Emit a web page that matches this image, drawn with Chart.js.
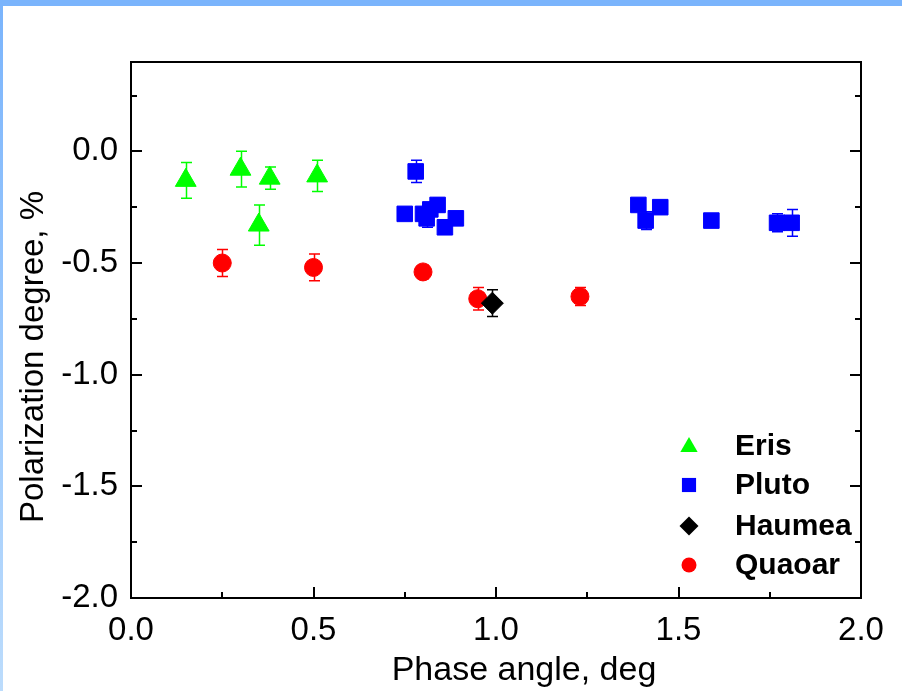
<!DOCTYPE html>
<html>
<head>
<meta charset="utf-8">
<script src="https://cdn.jsdelivr.net/npm/chart.js@4/dist/chart.umd.min.js"></script>
<style>
  html, body { margin: 0; padding: 0; background: #fff; }
  #wrap { position: relative; width: 902px; height: 691px; }
</style>
</head>
<body>
<div id="wrap"><canvas id="c" width="902" height="691"></canvas></div>
<script>
// ---- data ----
const erisX   = [0.15, 0.30, 0.35, 0.38, 0.51];
const erisY   = [-0.13, -0.08, -0.33, -0.12, -0.11];
const erisErr = [0.08, 0.08, 0.09, 0.05, 0.07];

const plutoX   = [0.75, 0.78, 0.80, 0.81, 0.82, 0.84, 0.86, 0.89, 1.39, 1.41, 1.45, 1.59, 1.77, 1.81];
const plutoY   = [-0.28, -0.09, -0.28, -0.30, -0.26, -0.24, -0.34, -0.30, -0.24, -0.31, -0.25, -0.31, -0.32, -0.32];
const plutoErr = [0.02, 0.05, 0.02, 0.04, 0.02, 0.03, 0.02, 0.02, 0.02, 0.04, 0.03, 0.02, 0.04, 0.06];

const haumeaX   = [0.99];
const haumeaY   = [-0.68];
const haumeaErr = [0.06];

const quaoarX   = [0.25, 0.50, 0.80, 0.95, 1.23];
const quaoarY   = [-0.50, -0.52, -0.54, -0.66, -0.65];
const quaoarErr = [0.06, 0.06, 0.03, 0.05, 0.04];

const seriesNames = ['Eris', 'Pluto', 'Haumea', 'Quaoar'];
const xTickValues = [0.0, 0.5, 1.0, 1.5, 2.0];
const xMinorValues = [0.25, 0.75, 1.25, 1.75];
const yTickValues = [-2.0, -1.5, -1.0, -0.5, 0.0];
const yMinorValues = [-1.75, -1.25, -0.75, -0.25, 0.25];
const xTitle = 'Phase angle, deg';
const yTitle = 'Polarization degree, %';

function pts(xs, ys, es) { return xs.map((x, i) => ({ x: x, y: ys[i], err: es[i] })); }

const styles = [
  { color: '#00ff00', shape: 'triangle', r: 12, lr: 10 },
  { color: '#0000ff', shape: 'rect', r: 11, lr: 10 },
  { color: '#000000', shape: 'rectRot', r: 11, lr: 9.5 },
  { color: '#ff0000', shape: 'circle', r: 9, lr: 7.5 }
];
const allData = [pts(erisX, erisY, erisErr), pts(plutoX, plutoY, plutoErr), pts(haumeaX, haumeaY, haumeaErr), pts(quaoarX, quaoarY, quaoarErr)];

const datasets = seriesNames.map((n, i) => ({
  label: n,
  data: allData[i],
  pointStyle: styles[i].shape,
  pointRadius: styles[i].r,
  pointHoverRadius: styles[i].r,
  backgroundColor: styles[i].color,
  borderColor: styles[i].color,
  borderWidth: 1,
  showLine: false
}));

const fontFam = '"Liberation Sans", Arial, sans-serif';

const framePlugin = {
  id: 'frame',
  beforeDraw(chart) {
    const ctx = chart.ctx;
    ctx.save();
    ctx.fillStyle = '#ffffff';
    ctx.fillRect(0, 0, chart.width, chart.height);
    const g = ctx.createLinearGradient(0, 0, 0, chart.height);
    g.addColorStop(0, '#7ab4fc');
    g.addColorStop(1, '#bcdcfc');
    ctx.fillStyle = g;
    ctx.fillRect(0, 0, 3, chart.height);
    ctx.fillStyle = '#7ab4fc';
    ctx.fillRect(0, 0, chart.width, 6);
    ctx.restore();
  }
};

const errorBarPlugin = {
  id: 'errbars',
  beforeDatasetsDraw(chart) {
    const ctx = chart.ctx, xs = chart.scales.x, ys = chart.scales.y;
    ctx.save();
    ctx.lineWidth = 1.5;
    chart.data.datasets.forEach((ds, i) => {
      ctx.strokeStyle = ds.borderColor;
      ds.data.forEach(p => {
        const x = Math.round(xs.getPixelForValue(p.x)) + 0.5;
        const yt = ys.getPixelForValue(p.y + p.err);
        const yb = ys.getPixelForValue(p.y - p.err);
        ctx.beginPath();
        ctx.moveTo(x, yt); ctx.lineTo(x, yb);
        ctx.moveTo(x - 5.5, yt); ctx.lineTo(x + 5.5, yt);
        ctx.moveTo(x - 5.5, yb); ctx.lineTo(x + 5.5, yb);
        ctx.stroke();
      });
    });
    ctx.restore();
  }
};

function drawShape(ctx, shape, x, y, r, color) {
  ctx.fillStyle = color;
  ctx.beginPath();
  if (shape === 'triangle') {
    const w = r * Math.sin(Math.PI * 2 / 3);
    ctx.moveTo(x, y - r);
    ctx.lineTo(x + w, y + r / 2);
    ctx.lineTo(x - w, y + r / 2);
    ctx.closePath();
  } else if (shape === 'rect') {
    const s = r * Math.SQRT1_2;
    ctx.rect(x - s, y - s, 2 * s, 2 * s);
  } else if (shape === 'rectRot') {
    ctx.moveTo(x, y - r); ctx.lineTo(x + r, y); ctx.lineTo(x, y + r); ctx.lineTo(x - r, y);
    ctx.closePath();
  } else {
    ctx.arc(x, y, r, 0, Math.PI * 2);
  }
  ctx.fill();
}

const boxPlugin = {
  id: 'box',
  afterDraw(chart) {
    const ctx = chart.ctx, a = chart.chartArea, xs = chart.scales.x, ys = chart.scales.y;
    ctx.save();
    ctx.strokeStyle = '#000';
    ctx.lineWidth = 2;
    ctx.strokeRect(a.left, a.top, a.right - a.left, a.bottom - a.top);
    ctx.beginPath();
    yTickValues.forEach(v => {
      const y = Math.round(ys.getPixelForValue(v));
      ctx.moveTo(a.left, y); ctx.lineTo(a.left + 11, y);
      ctx.moveTo(a.right, y); ctx.lineTo(a.right - 11, y);
    });
    yMinorValues.forEach(v => {
      const y = Math.round(ys.getPixelForValue(v));
      ctx.moveTo(a.left, y); ctx.lineTo(a.left + 6, y);
      ctx.moveTo(a.right, y); ctx.lineTo(a.right - 6, y);
    });
    xTickValues.forEach(v => {
      const x = Math.round(xs.getPixelForValue(v));
      ctx.moveTo(x, a.bottom); ctx.lineTo(x, a.bottom - 11);
    });
    xMinorValues.forEach(v => {
      const x = Math.round(xs.getPixelForValue(v));
      ctx.moveTo(x, a.bottom); ctx.lineTo(x, a.bottom - 6);
    });
    ctx.stroke();

    // axis titles
    ctx.fillStyle = '#000';
    ctx.textBaseline = 'alphabetic';
    ctx.textAlign = 'center';
    ctx.font = '34px ' + fontFam;
    ctx.fillText(xTitle, 524, 680);
    ctx.save();
    ctx.translate(43, 357);
    ctx.rotate(-Math.PI / 2);
    ctx.font = '33px ' + fontFam;
    ctx.fillText(yTitle, 0, 0);
    ctx.restore();

    // legend
    const lx = 689, tx = 735, rowsY = [446, 485, 526, 565];
    ctx.font = 'bold 30px ' + fontFam;
    ctx.textBaseline = 'middle';
    ctx.textAlign = 'left';
    seriesNames.forEach((n, i) => {
      const st = styles[i];
      drawShape(ctx, st.shape, lx, rowsY[i] + (st.shape === 'triangle' ? 1 : 0), st.lr, st.color);
      ctx.fillStyle = '#000';
      ctx.fillText(n, tx, rowsY[i] + 1);
    });
    ctx.restore();
  }
};

new Chart(document.getElementById('c'), {
  type: 'scatter',
  data: { datasets: datasets },
  options: {
    responsive: false,
    animation: false,
    events: [],
    layout: { padding: { left: 0, top: 62, right: 41, bottom: 0 } },
    plugins: { legend: { display: false }, tooltip: { enabled: false } },
    scales: {
      x: {
        type: 'linear', min: 0, max: 2,
        grid: { display: false, drawTicks: false },
        border: { display: false },
        afterBuildTicks(s) { s.ticks = xTickValues.map(v => ({ value: v })); },
        afterFit(s) { s.height = 93; },
        ticks: {
          padding: 13, color: '#000', maxRotation: 0, autoSkip: false,
          font: { family: fontFam, size: 33 },
          callback: v => Number(v).toFixed(1)
        }
      },
      y: {
        type: 'linear', min: -2.0, max: 0.4,
        grid: { display: false, drawTicks: false },
        border: { display: false },
        afterBuildTicks(s) { s.ticks = yTickValues.map(v => ({ value: v })); },
        afterFit(s) { s.width = 131; },
        ticks: {
          padding: 13, color: '#000', autoSkip: false,
          font: { family: fontFam, size: 33 },
          callback: v => Number(v).toFixed(1)
        }
      }
    }
  },
  plugins: [framePlugin, errorBarPlugin, boxPlugin]
});
</script>
</body>
</html>
